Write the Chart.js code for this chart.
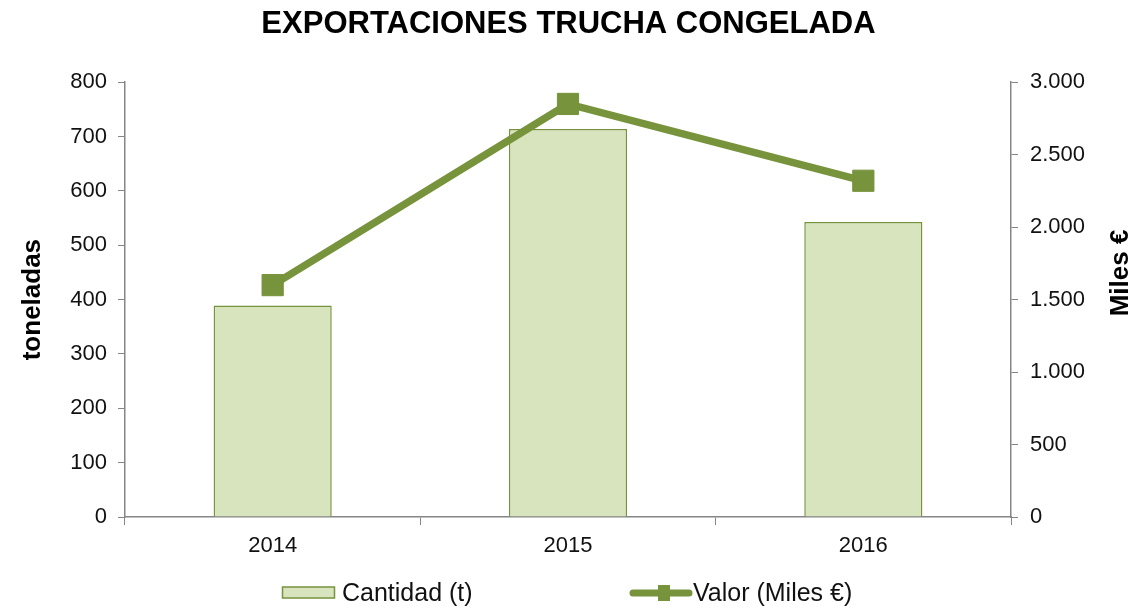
<!DOCTYPE html>
<html>
<head>
<meta charset="utf-8">
<script src="https://cdn.jsdelivr.net/npm/chart.js@4.4.1/dist/chart.umd.min.js"></script>
<style>
html, body { margin: 0; padding: 0; background: #fff; }
</style>
</head>
<body>
<canvas id="mycanvas" width="1137" height="608"></canvas>
<script>
// data
var years = ["2014", "2015", "2016"];
var cantidad = [389, 714, 543];      // toneladas (bars, left axis)
var valor = [1600, 2850, 2320];      // miles de euros (line, right axis)

var leftMax = 800, leftStep = 100;
var rightMax = 3000, rightStep = 500;

var FONT = "'Liberation Sans', Arial, sans-serif";
var GREEN = "#77933c";
var LIGHT = "#d7e4bd";
var AXIS = "#868686";

function miles(v) {
	return String(v).replace(/\B(?=(\d{3})+(?!\d))/g, ".");
}

var extras = {
	id: "extras",
	afterDraw: function(chart) {
		var ctx = chart.ctx;
		var ds = chart.data.datasets;
		ctx.save();

		// right axis title, reads bottom to top
		ctx.font = "bold 26px " + FONT;
		ctx.fillStyle = "#000";
		ctx.textAlign = "center";
		ctx.textBaseline = "middle";
		ctx.translate(1121, 273);
		ctx.rotate(-Math.PI / 2);
		ctx.fillText("Miles €", 0, 0);
		ctx.restore();

		// legend
		ctx.save();
		var ly = 593;
		ctx.font = "25px " + FONT;
		ctx.textBaseline = "middle";
		ctx.textAlign = "left";

		ctx.fillStyle = ds[0].backgroundColor;
		ctx.fillRect(282.5, ly - 6, 52, 11);
		ctx.strokeStyle = ds[0].borderColor;
		ctx.lineWidth = 1.5;
		ctx.strokeRect(282.5, ly - 6, 52, 11);
		ctx.fillStyle = "#111";
		ctx.fillText(ds[0].label, 342, ly + 1);

		ctx.strokeStyle = ds[1].borderColor;
		ctx.lineWidth = 7;
		ctx.lineCap = "round";
		ctx.beginPath();
		ctx.moveTo(633, ly);
		ctx.lineTo(689, ly);
		ctx.stroke();
		ctx.fillStyle = ds[1].borderColor;
		ctx.fillRect(658, ly - 8, 12, 16);
		ctx.fillStyle = "#111";
		ctx.fillText(ds[1].label, 693, ly + 1);
		ctx.restore();
	}
};

var chartdata = {
	labels: years,
	datasets: [
		{
			type: "bar",
			label: "Cantidad (t)",
			data: cantidad,
			yAxisID: "y",
			backgroundColor: LIGHT,
			borderColor: GREEN,
			borderWidth: 1.5,
			barPercentage: 0.4,
			categoryPercentage: 1.0,
			order: 2
		},
		{
			type: "line",
			label: "Valor (Miles €)",
			data: valor,
			yAxisID: "y1",
			borderColor: GREEN,
			backgroundColor: GREEN,
			borderWidth: 7.5,
			fill: false,
			tension: 0,
			pointStyle: "rect",
			pointRadius: 15,
			pointBorderWidth: 1,
			pointBackgroundColor: GREEN,
			pointBorderColor: GREEN,
			order: 1
		}
	]
};

var ctx = document.getElementById("mycanvas");

var LineGraph = new Chart(ctx, {
	data: chartdata,
	plugins: [extras],
	options: {
		responsive: false,
		animation: false,
		events: [],
		layout: { padding: { left: 0, right: 0, top: 0, bottom: 0 } },
		plugins: {
			legend: { display: false },
			tooltip: { enabled: false },
			title: {
				display: true,
				text: "EXPORTACIONES TRUCHA CONGELADA",
				color: "#000",
				font: { family: FONT, size: 31, weight: "bold" },
				padding: { top: 6, bottom: 39 }
			}
		},
		scales: {
			x: {
				offset: true,
				grid: { display: true, drawOnChartArea: false, offset: true, color: AXIS, tickLength: 8 },
				border: { color: AXIS, width: 1.5 },
				ticks: { color: "#111", font: { family: FONT, size: 22 }, padding: 8 },
				afterFit: function(s) { s.height = 91; }
			},
			y: {
				position: "left",
				min: 0,
				max: leftMax,
				ticks: { stepSize: leftStep, color: "#111", font: { family: FONT, size: 22 }, padding: 11 },
				grid: { drawOnChartArea: false, color: AXIS, tickLength: 7 },
				border: { color: AXIS, width: 1.5 },
				title: {
					display: true,
					text: "toneladas",
					color: "#000",
					font: { family: FONT, size: 26, weight: "bold" },
					padding: { top: 17, bottom: 0 }
				},
				afterFit: function(s) { s.width = 125; }
			},
			y1: {
				position: "right",
				min: 0,
				max: rightMax,
				ticks: {
					stepSize: rightStep,
					color: "#111",
					font: { family: FONT, size: 22 },
					padding: 12,
					callback: function(v) { return miles(v); }
				},
				grid: { drawOnChartArea: false, color: AXIS, tickLength: 7 },
				border: { color: AXIS, width: 1.5 },
				afterFit: function(s) { s.width = 126; }
			}
		}
	}
});
</script>
</body>
</html>
